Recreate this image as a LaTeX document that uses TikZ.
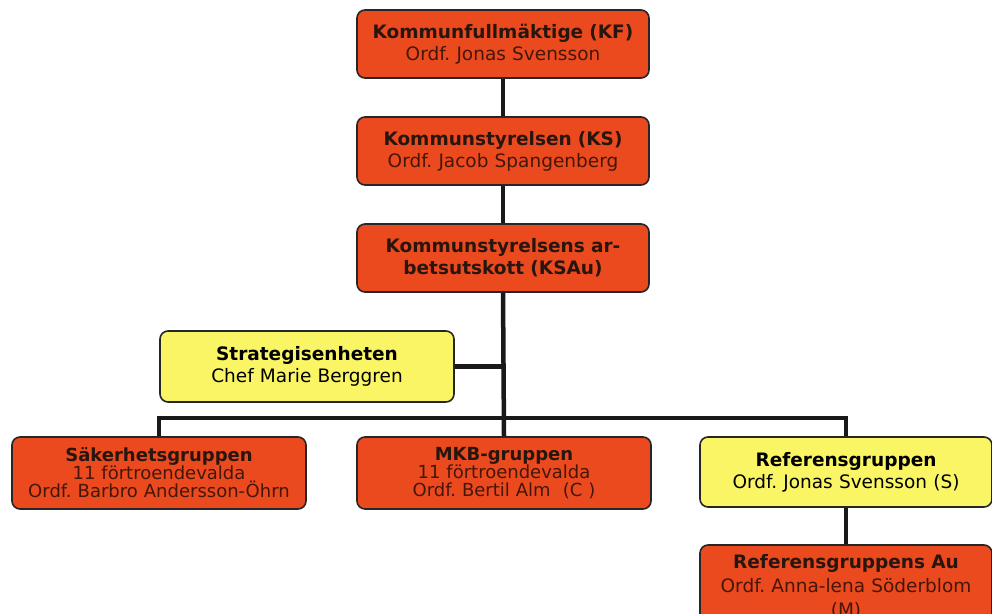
\documentclass[tikz,border=0pt]{standalone}
\usepackage{fontspec}
\setmainfont{DejaVu Sans}
\definecolor{boxred}{RGB}{234,74,30}
\definecolor{boxyel}{RGB}{250,245,100}
\definecolor{ttl}{RGB}{40,22,14}
\definecolor{sub}{RGB}{70,22,10}
\begin{document}
\frenchspacing
\begin{tikzpicture}[x=1pt,y=-1pt,
  orgbox/.style={draw=black!85,line width=1.6pt,rounded corners=8pt,align=center,
    inner sep=0pt,text width=#1,font=\fontsize{18.5}{22}\selectfont},
  redbox/.style={orgbox=290pt,fill=boxred,text=sub},
  yelbox/.style={orgbox=290pt,fill=boxyel,text=black},
  three/.style={font=\fontsize{18}{18}\selectfont},
  conn/.style={line width=4.5pt,black!90}]
\useasboundingbox (0,0) rectangle (992,613);
\clip (0,0) rectangle (992,613);
\coordinate (barY) at (503,418);
\node[redbox,minimum width=292pt,minimum height=68pt] (kf) at (503,44)
  {{\bfseries\color{ttl}Kommunfullmäktige (KF)}\\Ordf. Jonas Svensson};
\node[redbox,minimum width=292pt,minimum height=68pt] (ks) at (503,151)
  {{\bfseries\color{ttl}Kommunstyrelsen (KS)}\\Ordf. Jacob Spangenberg};
\node[redbox,minimum width=292pt,minimum height=68pt] (ksau) at (503,258)
  {\bfseries\color{ttl}Kommunstyrelsens ar-\\betsutskott (KSAu)};
\node[yelbox,minimum width=294pt,minimum height=71pt] (strat) at (307,366.5)
  {{\bfseries Strategisenheten}\\Chef Marie Berggren};
\node[redbox,three,minimum width=294pt,minimum height=72pt] (sak) at (159,473)
  {{\bfseries\color{ttl}Säkerhetsgruppen}\\11 förtroendevalda\\Ordf. Barbro Andersson-Öhrn};
\node[redbox,three,minimum width=294pt,minimum height=72pt] (mkb) at (504,473)
  {{\bfseries\color{ttl}MKB-gruppen}\\11 förtroendevalda\\Ordf. Bertil Alm\ \ (C )};
\node[yelbox,minimum width=292pt,minimum height=70pt] (ref) at (846,472)
  {{\bfseries Referensgruppen}\\Ordf. Jonas Svensson (S)};
\node[redbox,font=\fontsize{18.5}{24}\selectfont,minimum width=292pt,minimum height=84pt] (refau) at (846,587)
  {{\bfseries\color{ttl}Referensgruppens Au}\\Ordf. Anna-lena Söderblom\\(M)};
\draw[conn] (kf.south) -- (ks.north);
\draw[conn] (ks.south) -- (ksau.north);
\draw[conn] (ksau.south) -- (mkb.north);
\draw[conn] (strat.east) -- (strat.east -| ksau.south);
\draw[conn,line join=miter] (sak.north) -- (sak.north |- barY) -- (ref.north |- barY) -- (ref.north);
\draw[conn] (ref.south) -- (refau.north);
\end{tikzpicture}
\end{document}
